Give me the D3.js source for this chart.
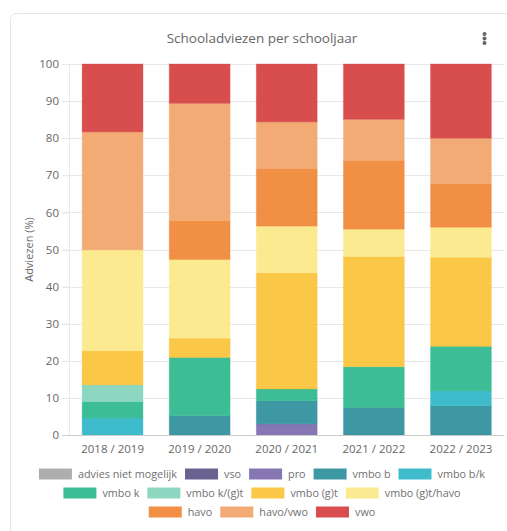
<!DOCTYPE html>
<html><head><meta charset="utf-8">
<script src="https://cdn.jsdelivr.net/npm/d3@7"></script>
<style>
html,body{margin:0;padding:0;background:#fff;}
svg{display:block;font-family:"Open Sans",sans-serif;}
</style></head>
<body><svg id="c" width="507" height="531"></svg>
<script>
const years = ["2018 / 2019","2019 / 2020","2020 / 2021","2021 / 2022","2022 / 2023"];
const seriesNames = ["advies niet mogelijk","vso","pro","vmbo b","vmbo b/k","vmbo k","vmbo k/(g)t","vmbo (g)t","vmbo (g)t/havo","havo","havo/vwo","vwo"];
const seriesColors = ["#aaaaaa","#615a8a","#8070b0","#34929f","#35b8c8","#33b98f","#87d5bd","#fac43c","#fbe98a","#f0893a","#f2a66e","#d64545"];
// percentages per series, one value per school year
const adviesNietMogelijk = [0,0,0,0,0];
const vso       = [0,0,0,0,0];
const pro       = [0,0,3.0,0,0];
const vmboB     = [0,5.2,6.2,7.4,7.9];
const vmboBK    = [4.6,0,0,0,4.0];
const vmboK     = [4.4,15.7,3.2,11.0,12.0];
const vmboKGT   = [4.5,0,0,0,0];
const vmboGT    = [9.2,5.2,31.3,29.7,24.0];
const vmboGTHavo= [27.2,21.2,12.6,7.4,8.1];
const havo      = [0,10.4,15.5,18.5,11.7];
const havoVwo   = [31.8,31.7,12.6,11.1,12.3];
const vwo       = [18.3,10.6,15.6,14.9,20.0];
const yTicks = [0,10,20,30,40,50,60,70,80,90,100];

const seriesValues = [adviesNietMogelijk,vso,pro,vmboB,vmboBK,vmboK,vmboKGT,vmboGT,vmboGTHavo,havo,havoVwo,vwo];

const svg = d3.select("#c");
// card
svg.append("rect").attr("x",10.5).attr("y",13.5).attr("width",520).attr("height",540)
  .attr("rx",6).attr("fill","#fff").attr("stroke","#e6e6e6");
svg.append("text").attr("x",262).attr("y",43).attr("text-anchor","middle")
  .attr("font-size",13.5).attr("fill","#666").text("Schooladviezen per schooljaar");
[34,38.5,43].forEach(cy=>svg.append("circle").attr("cx",484.5).attr("cy",cy).attr("r",2).attr("fill","#666"));

const m = {left:69, right:504.5, top:64, bottom:435};
const x = d3.scaleBand().domain(years).range([m.left,m.right]).paddingInner(0.29).paddingOuter(0.145);
const y = d3.scaleLinear().domain([0,100]).range([m.bottom,m.top]);

const table = years.map((yr,i)=>{const o={year:yr}; seriesNames.forEach((s,j)=>o[s]=seriesValues[j][i]); return o;});
const stack = d3.stack().keys(seriesNames)(table);

// grid
const g = svg.append("g");
g.selectAll("line.grid").data(yTicks.filter(t=>t>0)).enter().append("line")
  .attr("x1",62).attr("x2",m.right).attr("y1",d=>Math.round(y(d))+0.5).attr("y2",d=>Math.round(y(d))+0.5)
  .attr("stroke","#e8e8e8");
// y axis
const ya = svg.append("g").attr("transform",`translate(${m.left},0)`)
  .call(d3.axisLeft(y).tickValues(yTicks).tickSize(7).tickPadding(3));
ya.select(".domain").attr("stroke","#e8e8e8");
ya.selectAll(".tick line").attr("stroke","#e8e8e8");
ya.selectAll("text").attr("fill","#666").attr("font-size",11.5).attr("font-family","Open Sans");

// bars
svg.append("g").selectAll("g").data(stack).enter().append("g")
  .attr("fill",(d,i)=>seriesColors[i]).attr("stroke",(d,i)=>seriesColors[i])
  .selectAll("rect").data(d=>d.filter(p=>p[1]-p[0]>0)).enter().append("rect")
  .attr("x",d=>x(d.data.year)+0.5).attr("width",x.bandwidth()-1)
  .attr("y",d=>y(d[1])).attr("height",d=>y(d[0])-y(d[1]))
  .attr("fill-opacity",0.95).attr("stroke-opacity",0.35).attr("stroke-width",1);

// x axis
const xa = svg.append("g").attr("transform",`translate(0,${m.bottom})`)
  .call(d3.axisBottom(x).tickSize(0).tickPadding(10));
xa.select(".domain").attr("stroke","#ccc").attr("d",`M${62},0.5H${m.right}`);
xa.selectAll("text").attr("fill","#666").attr("font-size",11.5).attr("font-family","Open Sans");

// y label
svg.append("text").attr("transform",`translate(33,${(m.top+m.bottom)/2}) rotate(-90)`)
  .attr("text-anchor","middle").attr("font-size",11).attr("fill","#666").text("Adviezen (%)");

// legend
const rows = [[0,1,2,3,4],[5,6,7,8],[9,10,11]];
const rowY = [474,493,512];
const sw=33, sh=11, gapT=6, gapI=8, fs=10.8;
rows.forEach((r,ri)=>{
  const lg = svg.append("g");
  let cx=0;
  r.forEach(k=>{
    const it = lg.append("g").attr("transform",`translate(${cx},0)`);
    it.append("rect").attr("x",0).attr("y",-sh/2).attr("width",sw).attr("height",sh).attr("fill",seriesColors[k]).attr("fill-opacity",0.95);
    const t = it.append("text").attr("x",sw+gapT).attr("y",4).attr("font-size",fs).attr("fill","#707070").text(seriesNames[k]);
    cx += sw+gapT+t.node().getComputedTextLength()+gapI;
  });
  const w = cx-gapI;
  lg.attr("transform",`translate(${262-w/2},${rowY[ri]})`);
});
</script></body></html>
